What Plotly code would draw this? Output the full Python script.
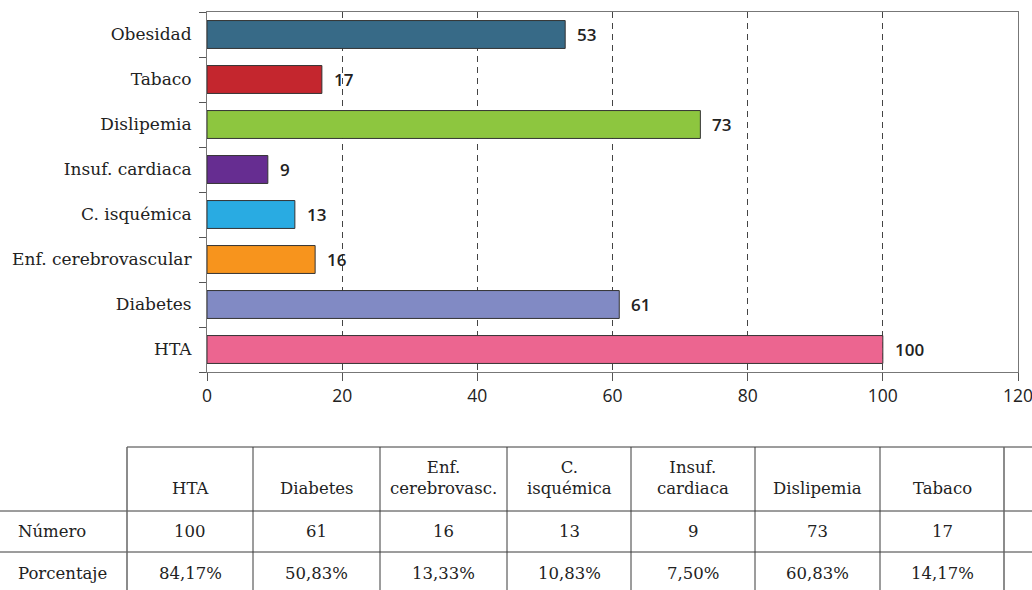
import plotly.graph_objects as go

# ---------------- data ----------------
categories = ["HTA", "Diabetes", "Enf. cerebrovascular", "C. isquémica",
              "Insuf. cardiaca", "Dislipemia", "Tabaco", "Obesidad"]
values = [100, 61, 16, 13, 9, 73, 17, 53]
colors = ["#EC6590", "#818AC4", "#F7941D", "#29ABE2",
          "#662D91", "#8DC63F", "#C4262E", "#376A87"]

table_headers = ["HTA", "Diabetes", "Enf.<br>cerebrovasc.", "C.<br>isquémica",
                 "Insuf.<br>cardiaca", "Dislipemia", "Tabaco"]
table_numbers = ["100", "61", "16", "13", "9", "73", "17"]
table_percent = ["84,17%", "50,83%", "13,33%", "10,83%", "7,50%", "60,83%", "14,17%"]
row_labels = ["Número", "Porcentaje"]

# ---------------- layout geometry (pixels) ----------------
W, H = 1032, 590
PL, PR, PT, PB = 207, 1018, 12, 372  # plot area in pixels


def px(x):
    return (x - PL) / (PR - PL)


def py(y):
    return (PB - y) / (PB - PT)


SERIF = "DejaVu Serif"
SANS = "Open Sans"
ypos = list(range(len(categories)))

fig = go.Figure()
fig.add_trace(go.Bar(
    x=values, y=ypos, orientation="h", width=0.62,
    marker=dict(color=colors, line=dict(color="#333333", width=1)),
    hoverinfo="skip", showlegend=False,
))

annotations = []
for v, yv in zip(values, ypos):
    annotations.append(dict(x=v, y=yv, xref="x", yref="y", text=str(v),
                            xanchor="left", yanchor="middle", xshift=10,
                            showarrow=False,
                            font=dict(family=SANS, size=17, color="#222222", weight=600)))

# ---------------- table ----------------
col_edges = [127, 253, 380, 507, 631, 755, 880, 1004, 1129]
row_edges = [447, 511, 552, 594]
shapes = []
line_col = "#3a3a3a"
# horizontal lines
shapes.append(dict(type="line", xref="paper", yref="paper",
                   x0=px(col_edges[0]), x1=px(W + 5), y0=py(row_edges[0]), y1=py(row_edges[0]),
                   line=dict(color=line_col, width=1)))
for r in row_edges[1:3]:
    shapes.append(dict(type="line", xref="paper", yref="paper",
                       x0=px(0), x1=px(W + 5), y0=py(r), y1=py(r),
                       line=dict(color=line_col, width=1)))
# vertical lines
for i, c in enumerate(col_edges[:-1]):
    edge = i in (0, len(col_edges) - 2)
    shapes.append(dict(type="line", xref="paper", yref="paper",
                       x0=px(c), x1=px(c), y0=py(row_edges[0]), y1=py(H + 5),
                       line=dict(color="#666666" if edge else line_col,
                                 width=1.5 if edge else 1)))

tfont = dict(family=SERIF, size=16.5, color="#222222")
for i, (h, n, p) in enumerate(zip(table_headers, table_numbers, table_percent)):
    cx = (col_edges[i] + col_edges[i + 1]) / 2
    annotations.append(dict(x=px(cx), y=py(500), xref="paper", yref="paper", text=h,
                            xanchor="center", yanchor="bottom", showarrow=False,
                            font=tfont, align="center"))
    annotations.append(dict(x=px(cx), y=py((row_edges[1] + row_edges[2]) / 2), xref="paper",
                            yref="paper", text=n, xanchor="center", yanchor="middle",
                            showarrow=False, font=tfont))
    annotations.append(dict(x=px(cx), y=py(573), xref="paper",
                            yref="paper", text=p, xanchor="center", yanchor="middle",
                            showarrow=False, font=tfont))
for lab, yy in zip(row_labels, [(row_edges[1] + row_edges[2]) / 2, 573]):
    annotations.append(dict(x=px(16), y=py(yy), xref="paper", yref="paper", text=lab,
                            xanchor="left", yanchor="middle", showarrow=False, font=tfont))

fig.update_layout(
    template="none",
    width=W, height=H,
    margin=dict(l=PL, r=W - PR, t=PT, b=H - PB, pad=0, autoexpand=False),
    paper_bgcolor="white", plot_bgcolor="white",
    xaxis=dict(range=[0, 120], dtick=20, tick0=0, showline=True, linecolor="#777777",
               linewidth=1, mirror=True, ticks="outside", ticklen=8, tickcolor="#555555",
               showgrid=True, gridcolor="#444444", griddash="6px,5px", gridwidth=1,
               zeroline=False, automargin=False, ticklabeloverflow="allow",
               tickfont=dict(family=SANS, size=17.5, color="#222222"),
               fixedrange=True),
    yaxis=dict(range=[-0.5, len(categories) - 0.5], tickmode="array", tickvals=ypos,
               ticktext=categories, ticks="", showline=True, linecolor="#777777",
               linewidth=1, mirror=True, showgrid=False, zeroline=False,
               ticklabelstandoff=11, automargin=False,
               minor=dict(tickmode="array",
                          tickvals=[k - 0.5 for k in range(len(categories) + 1)],
                          ticks="outside", ticklen=7, tickcolor="#555555", showgrid=False),
               tickfont=dict(family=SERIF, size=17, color="#222222"), fixedrange=True),
    shapes=shapes,
    annotations=annotations,
)

fig.write_html("out.html")
